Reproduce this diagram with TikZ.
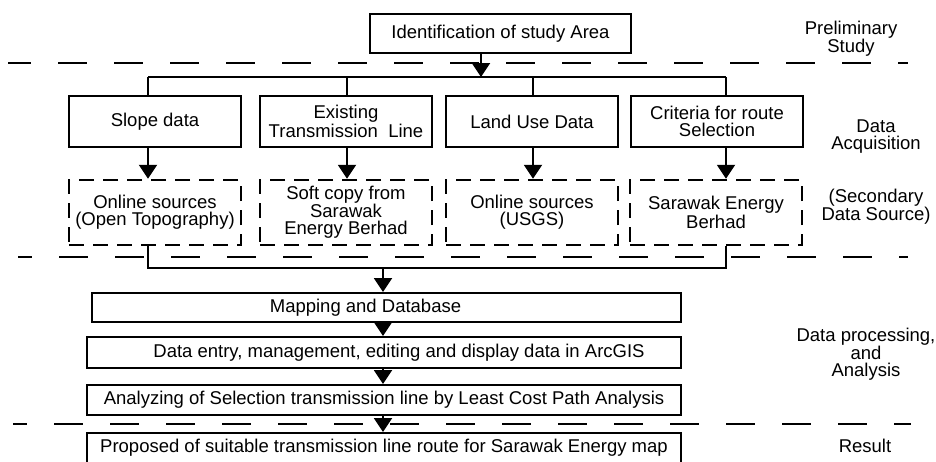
\documentclass[tikz,border=0pt]{standalone}
\usepackage{fontspec}
\setmainfont{Liberation Sans}
\usetikzlibrary{arrows.meta}

\tikzset{
  stagebox/.style={draw, line width=2pt, align=center, inner sep=0pt, minimum height=#1},
  sourcebox/.style={draw, line width=2.5pt, dash pattern=on 15pt off 9pt, align=center,
                    inner sep=0pt, minimum width=172pt, minimum height=65pt},
  flow/.style={line width=2pt, -{Triangle[width=18pt,length=14pt]}},
  link/.style={line width=2pt},
  separator/.style={line width=2.5pt, dash pattern=on 29pt off 27pt},
  phaselabel/.style={align=center, font=\fontsize{18.5}{17}\selectfont}
}

\begin{document}
\begin{tikzpicture}[x=1pt, y=-1pt, font=\fontsize{18.5}{17}\selectfont]
    \clip (0,0) rectangle (936,461);

    % phase separators
    \foreach \y/\xa/\xb/\ph in {63/8/908/6, 257/18/908/15, 424/13/911/15}{
        \draw [separator, dash phase=\ph pt] (\xa,\y) -- (\xb,\y);
    }

    % preliminary study
    \node [stagebox=39pt, minimum width=261pt] (ident) at (500.5,33.5) {Identification of study Area};

    % data acquisition
    \foreach \n/\x/\txt in {1/155/{Slope data}, 2/346/{Existing\\Transmission\ \ Line},
                            3/532/{Land Use Data}, 4/717/{Criteria for route\\Selection}}{
        \node [stagebox=51pt, minimum width=172pt] (data\n) at (\x,121.5) {\txt};
    }
    \foreach \n/\x/\txt in {1/155/{Online sources\\(Open Topography)}, 2/346/{Soft copy from\\Sarawak\\Energy Berhad},
                            3/532/{Online sources\\(USGS)}, 4/716/{Sarawak Energy\\Berhad}}{
        \node [sourcebox] (src\n) at (\x,212.5) {\txt};
    }

    % processing and result
    \node [stagebox=29pt, minimum width=589pt] (map) at (386.5,307.5) {\hspace*{-42pt}Mapping and Database};
    \node [stagebox=31pt, minimum width=594pt] (entry) at (384,352.5) {\hspace*{30pt}Data entry, management, editing and display data in ArcGIS};
    \node [stagebox=30pt, minimum width=594pt] (analyze) at (384,400) {Analyzing of Selection transmission line by Least Cost Path Analysis};
    \node [stagebox=30pt, minimum width=594pt] (result) at (384,448) {Proposed of suitable transmission line route for Sarawak Energy map};

    % phase labels
    \node [phaselabel] (prelim) at (851,39) {Preliminary\\Study};
    \node [phaselabel] (acq) at (876,137) {Data\\Acquisition};
    \node [phaselabel] (secondary) at (876,206.5) {(Secondary\\Data Source)};
    \node [phaselabel] (proc) at (866,354) {Data processing,\\and\\Analysis};
    \node [phaselabel] (res) at (865,446) {Result};

    % connectors
    \coordinate (top) at (481,77);
    \coordinate (join) at (383,268);
    \foreach \n/\x in {1/148, 2/347, 3/533, 4/726}{
        \coordinate (col\n) at (\x,77);
    }
    \draw [flow] (ident.south -| top) -- (top);
    \draw [link] (col1) -- (col4);
    \foreach \n in {1,...,4}{
        \draw [link] (col\n) -- (col\n |- data\n.north);
        \draw [flow] (col\n |- data\n.south) -- (col\n |- src\n.north);
    }
    \draw [link] (src1.south -| col1) -- (col1 |- join) -- (col4 |- join) -- (src4.south -| col4);
    \draw [flow] (join) -- (join |- map.north);
    \draw [flow] (map.south -| join) -- (join |- entry.north);
    \draw [flow] (entry.south -| join) -- (join |- analyze.north);
    \draw [flow] (analyze.south -| join) -- (join |- result.north);

\end{tikzpicture}
\end{document}
